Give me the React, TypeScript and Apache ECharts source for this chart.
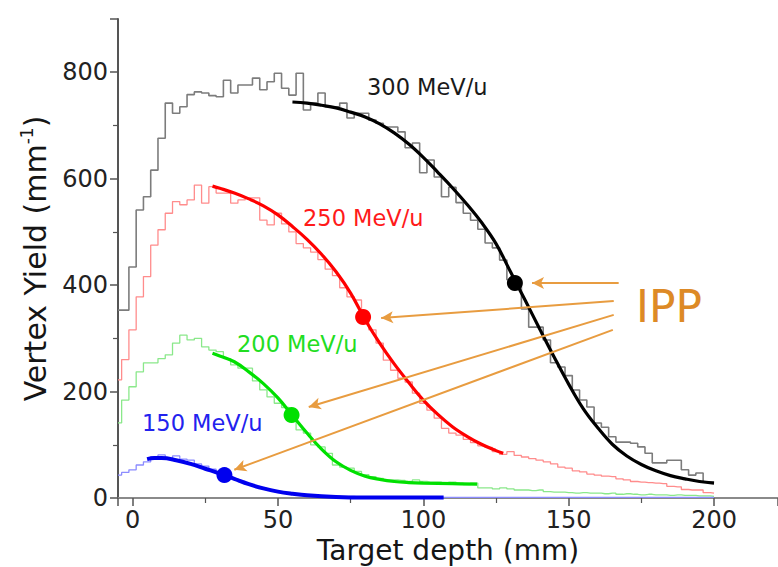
import React, { useEffect, useRef } from "react";
import * as echarts from "echarts";

// Histogram bins: centres from -5 mm to 200 mm, 2.5 mm wide
const BIN_START = -5;
const BIN_WIDTH = 2.5;

const hist300 = [
  353, 353, 434, 541, 566, 616, 676, 742, 723, 735,
  758, 763, 761, 756, 754, 785, 761, 776, 776, 789,
  767, 782, 798, 770, 757, 798, 729, 742, 761, 735,
  735, 742, 714, 723, 723, 710, 704, 697, 697, 688,
  658, 667, 611, 635, 603, 566, 584, 555, 535, 522,
  505, 479, 470, 447, 410, 410, 355, 321, 321, 297,
  254, 246, 230, 203, 184, 171, 141, 133, 115, 105,
  105, 103, 96, 84, 66, 66, 71, 71, 53, 43,
  47, 30, 30,
];
const hist250 = [
  222, 260, 316, 378, 416, 475, 504, 535, 557, 551,
  560, 588, 554, 585, 573, 573, 554, 560, 564, 564,
  522, 513, 535, 515, 500, 478, 470, 462, 448, 430,
  418, 395, 378, 372, 330, 316, 291, 259, 240, 225,
  218, 197, 178, 165, 150, 131, 122, 118, 110, 104,
  98, 95, 87, 82, 87, 80, 77, 74, 71, 68,
  64, 58, 56, 51, 49, 45, 43, 41, 40, 36,
  34, 31, 30, 29, 28, 27, 22, 21, 16, 15,
  15, 10, 9,
];
const hist200 = [
  141, 184, 209, 237, 254, 254, 262, 269, 291, 306,
  297, 300, 284, 278, 275, 262, 250, 244, 244, 220,
  203, 190, 178, 170, 150, 128, 122, 100, 96, 84,
  62, 58, 56, 50, 44, 40, 37, 34, 34, 33,
  31, 34, 31, 30, 30, 28, 30, 28, 25, 28,
  19, 19, 17, 19, 17, 15, 15, 14, 15, 12,
  11, 11, 10, 9, 10, 9, 9, 8, 9, 7,
  8, 7, 6, 7, 6, 6, 5, 6, 5, 5,
  4, 4, 3,
];
const hist150 = [
  43, 48, 53, 62, 68, 77, 81, 74, 79, 73,
  71, 64, 60, 54, 48, 42, 36, 31, 26, 22,
  18, 15, 12, 10, 8, 7, 5, 4, 4, 3,
  3, 2, 3, 2, 2, 2, 2, 1, 2, 1,
  1, 2, 1, 1, 1, 1, 1, 1, 1, 1,
  1, 1, 1, 1, 1, 1, 1, 1, 1, 1,
  1, 1, 1, 1, 1, 1, 1, 1, 1, 1,
  1, 1, 1, 1, 1, 1, 1, 1, 1, 1,
  1, 1, 1,
];

// Fit curves
const fit300X = [55, 60, 65, 70, 75, 80, 85, 90, 95, 100, 105, 110, 115, 120, 125, 130, 135, 140, 145, 150, 155, 160, 165, 170, 175, 180, 185, 190, 195, 200];
const fit300Y = [744, 742, 738, 733, 725, 716, 703, 686, 665, 640, 612, 583, 552, 518, 478, 425, 372, 318, 265, 214, 168, 132, 101, 79, 63, 51, 42, 36, 31, 28];
const fit250X = [27.5, 30, 35, 40, 45, 50, 55, 60, 65, 70, 75, 80, 85, 90, 95, 100, 105, 110, 115, 120, 125, 127.5];
const fit250Y = [586, 582, 573, 562, 549, 532, 510, 486, 458, 425, 385, 335, 291, 252, 217, 184, 157, 134, 116, 101, 89, 84];
const fit200X = [27.5, 30, 35, 40, 45, 50, 55, 60, 65, 70, 75, 80, 85, 90, 95, 100, 110, 118.5];
const fit200Y = [272, 267, 256, 237, 215, 188, 155, 122, 92, 68, 52, 41, 35, 31, 29, 28, 27, 26];
const fit150X = [5, 7.5, 10, 15, 20, 25, 30, 35, 40, 45, 50, 55, 60, 70, 80, 90, 107];
const fit150Y = [73, 75, 75, 71, 64, 55, 46, 36, 26, 18, 12, 8, 5, 2, 1, 1, 1];

// Inflection points (IPP)
const ippX = [131.5, 79.3, 54.7, 31.6];
const ippY = [404, 340, 156, 43];

// Arrows from the "IPP" note to each inflection point
const arrowFromX = [167.2, 165.5, 165.5, 165.2];
const arrowFromY = [404, 370, 344, 316];
const arrowToX = [137.4, 85.5, 60.6, 35.0];
const arrowToY = [404, 338, 171, 53];

const energyLabels = ["300 MeV/u", "250 MeV/u", "200 MeV/u", "150 MeV/u"];
const noteLabel = "IPP";

const FONT = "DejaVu Sans";
const histColors = ["#7c7c7c", "#ff8c8c", "#8ae88a", "#8c8cff"];
const fitColors = ["#000000", "#ff0000", "#00e000", "#0000ee"];
const labelColors = ["#1a1a1a", "#ff1a1a", "#22dd22", "#2222ee"];
const ORANGE = "#dd8a26";
const ARROW = "#e89c40";

const toBins = (vals: number[]) => vals.map((v, i) => [BIN_START + i * BIN_WIDTH, v]);
const toPairs = (xs: number[], ys: number[]) => xs.map((x, i) => [x, ys[i]]);

export default function App() {
  const ref = useRef<HTMLDivElement>(null);

  useEffect(() => {
    if (!ref.current) return;
    const chart = echarts.init(ref.current, undefined, { renderer: "svg" });

    const hists = [hist300, hist250, hist200, hist150];
    const fits = [
      toPairs(fit300X, fit300Y),
      toPairs(fit250X, fit250Y),
      toPairs(fit200X, fit200Y),
      toPairs(fit150X, fit150Y),
    ];

    const series: any[] = [];
    hists.forEach((h, i) => {
      series.push({
        type: "line",
        name: "hist" + i,
        data: toBins(h),
        step: "middle",
        showSymbol: false,
        silent: true,
        z: 2,
        lineStyle: { color: histColors[i], width: i === 0 ? 1.6 : 1.3 },
      });
    });
    fits.forEach((f, i) => {
      series.push({
        type: "line",
        name: "fit" + i,
        data: f,
        smooth: 0.4,
        showSymbol: false,
        silent: true,
        z: 3,
        lineStyle: { color: fitColors[i], width: i === 3 ? 4 : 3.2 },
      });
    });
    series.push({
      type: "scatter",
      name: "ipp",
      symbolSize: 16,
      z: 5,
      silent: true,
      data: ippX.map((x, i) => ({
        value: [x, ippY[i]],
        itemStyle: { color: fitColors[i], opacity: 1 },
      })),
      markLine: {
        silent: true,
        symbol: ["none", "arrow"],
        symbolSize: [9, 12],
        label: { show: false },
        lineStyle: { color: ARROW, width: 2, type: "solid" },
        emphasis: { disabled: true },
        data: arrowFromX.map((x, i) => [
          { coord: [x, arrowFromY[i]] },
          { coord: [arrowToX[i], arrowToY[i]] },
        ]),
      },
    });

    const labelPos = [
      [367, 87],
      [303, 218],
      [237, 344],
      [142, 423],
    ];

    const option: any = {
      animation: false,
      backgroundColor: "#ffffff",
      textStyle: { fontFamily: FONT },
      grid: {
        left: 118,
        top: 19,
        right: 0,
        bottom: 69,
        containLabel: false,
        outerBoundsMode: "none",
      },
      xAxis: {
        type: "value",
        min: -5,
        max: 222,
        splitNumber: 5,
        axisLine: { show: true, onZero: false, lineStyle: { color: "#8a8a8a", width: 2 } },
        axisTick: { show: true, inside: false, length: 8, lineStyle: { color: "#555", width: 1.5 } },
        minorTick: { show: true, splitNumber: 2, length: 5, lineStyle: { color: "#555", width: 1.2 } },
        splitLine: { show: false },
        axisLabel: {
          color: "#222",
          fontSize: 24,
          fontFamily: FONT,
          margin: 10,
          formatter: (v: number) => (v % 50 === 0 ? String(v) : ""),
        },
        name: "Target depth (mm)",
        nameLocation: "middle",
        nameGap: 36,
        nameTextStyle: { fontSize: 28, color: "#151515", fontFamily: FONT },
      },
      yAxis: {
        type: "value",
        min: 0,
        max: 900,
        interval: 200,
        axisLine: { show: true, onZero: false, lineStyle: { color: "#555", width: 2 } },
        axisTick: { show: true, inside: false, length: 8, lineStyle: { color: "#555", width: 1.5 } },
        minorTick: { show: true, splitNumber: 2, length: 5, lineStyle: { color: "#555", width: 1.2 } },
        splitLine: { show: false },
        axisLabel: {
          color: "#222",
          fontSize: 24,
          fontFamily: FONT,
          margin: 10,
          showMaxLabel: false,
          formatter: (v: number) => (v % 200 === 0 ? String(v) : ""),
        },
        name: "{a|Vertex Yield (mm}{s|-1}{a|)}",
        nameLocation: "middle",
        nameGap: 66,
        nameTextStyle: {
          fontSize: 30,
          color: "#151515",
          fontFamily: FONT,
          rich: {
            a: { fontSize: 30, color: "#151515", fontFamily: FONT, lineHeight: 34 },
            s: { fontSize: 17, color: "#151515", fontFamily: FONT, verticalAlign: "top", lineHeight: 34 },
          },
        },
      },
      graphic: [
        ...energyLabels.map((t, i) => ({
          type: "text",
          x: labelPos[i][0],
          y: labelPos[i][1],
          silent: true,
          z: 10,
          style: {
            text: t,
            fill: labelColors[i],
            fontSize: 22.5,
            fontFamily: FONT,
            verticalAlign: "middle",
            align: "left",
          },
        })),
        {
          type: "text",
          x: 636,
          y: 306,
          silent: true,
          z: 10,
          style: {
            text: noteLabel,
            fill: ORANGE,
            fontSize: 44,
            fontFamily: FONT,
            verticalAlign: "middle",
            align: "left",
          },
        },
      ],
      series,
    };

    chart.setOption(option);
    return () => {
      chart.dispose();
    };
  }, []);

  return (
    <div
      ref={ref}
      style={{ position: "fixed", left: 0, top: 0, width: 778, height: 567, background: "#fff" }}
    />
  );
}
